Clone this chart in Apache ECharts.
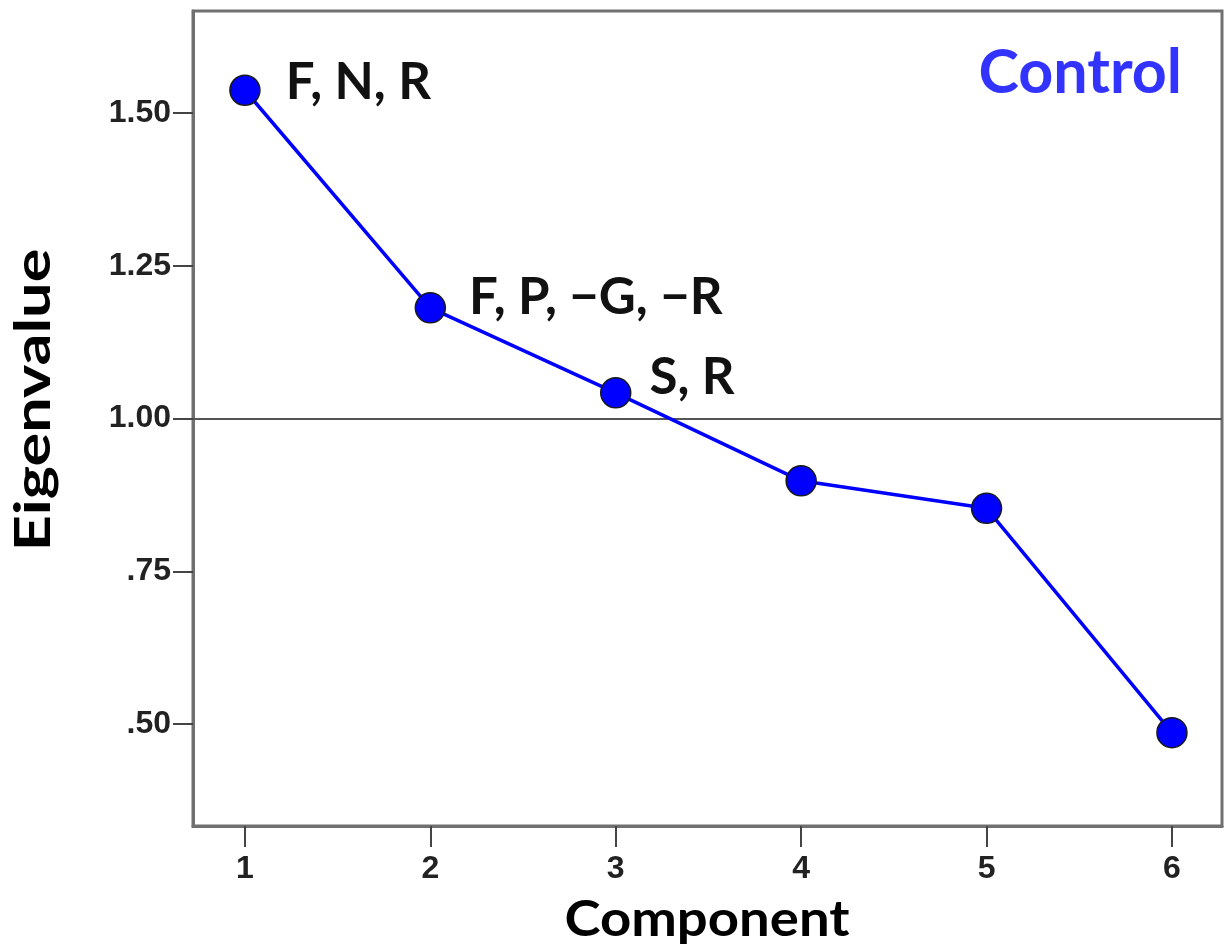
<!DOCTYPE html>
<html>
<head>
<meta charset="utf-8">
<script src="https://cdn.jsdelivr.net/npm/echarts@6/dist/echarts.min.js"></script>
<style>
  html, body { margin: 0; padding: 0; background: #fff; }
  #chart { width: 1228px; height: 952px; }
</style>
</head>
<body>
<div id="chart"></div>
<script>
// Scree plot: eigenvalue of each principal component
const components = [1, 2, 3, 4, 5, 6];
const eigenvalues = [1.537, 1.181, 1.042, 0.898, 0.853, 0.486];
// variables loading on each retained component
const loadings = ['F, N, R', 'F, P, \u2212G, \u2212R', 'S, R', '', '', ''];
const yTicks = [0.5, 0.75, 1.0, 1.25, 1.5];
const yTickLabels = ['.50', '.75', '1.00', '1.25', '1.50'];
const kaiserCutoff = 1.0;
const groupName = 'Control';

// per-label nudges (distance from marker, vertical shift)
const labelPlacement = [
  { distance: 25, dy: -8 },
  { distance: 23, dy: -10 },
  { distance: 18, dy: -15 }
];

const chart = echarts.init(document.getElementById('chart'), null, { renderer: 'canvas' });

const tickFont = { fontFamily: 'Liberation Sans', fontWeight: 'bold', fontSize: 32, color: '#222' };
const textFont = 'Lato';

const seriesData = components.map((c, i) => {
  const item = { value: [c, eigenvalues[i]] };
  if (loadings[i]) {
    const p = labelPlacement[i];
    item.label = {
      show: true,
      position: 'right',
      distance: p.distance,
      offset: [0, p.dy],
      formatter: loadings[i],
      fontFamily: textFont,
      fontWeight: 'bold',
      fontSize: 51,
      color: '#111'
    };
  }
  return item;
});

chart.setOption({
  animation: false,
  backgroundColor: '#fff',
  grid: {
    left: 193, right: 6, top: 11, bottom: 126,
    show: true,
    borderColor: '#707070',
    borderWidth: 3,
    backgroundColor: 'transparent'
  },
  xAxis: {
    type: 'value',
    min: 0.72,
    max: 6.27,
    splitLine: { show: false },
    axisLine: { show: true, onZero: false, lineStyle: { color: '#707070', width: 3 } },
    axisTick: { show: true, length: 21, customValues: components, lineStyle: { color: '#444', width: 2 } },
    axisLabel: Object.assign({ margin: 27, customValues: components, formatter: v => String(v) }, tickFont)
  },
  yAxis: {
    type: 'value',
    min: 1 / 3,
    max: 5 / 3,
    splitLine: { show: false },
    axisLine: { show: true, onZero: false, lineStyle: { color: '#707070', width: 3 } },
    axisTick: { show: true, length: 20, customValues: yTicks, lineStyle: { color: '#444', width: 2 } },
    axisLabel: Object.assign({
      margin: 22,
      customValues: yTicks,
      formatter: v => {
        const k = yTicks.findIndex(t => Math.abs(t - v) < 1e-6);
        return k >= 0 ? yTickLabels[k] : '';
      }
    }, tickFont)
  },
  series: [{
    type: 'line',
    data: seriesData,
    symbol: 'circle',
    symbolSize: 30,
    lineStyle: { color: '#0000ff', width: 3.5 },
    itemStyle: { color: '#0000ff', borderColor: '#1a1a1a', borderWidth: 1.5 },
    z: 3,
    markLine: {
      silent: true,
      symbol: 'none',
      label: { show: false },
      lineStyle: { color: '#555', width: 2, type: 'solid' },
      data: [{ yAxis: kaiserCutoff }],
      z: 1
    }
  }],
  graphic: [
    {
      type: 'text',
      x: 707, y: 920,
      scaleX: 1.09,
      style: {
        text: 'Component',
        font: 'bold 50px Lato',
        fill: '#000',
        align: 'center',
        verticalAlign: 'middle'
      }
    },
    {
      type: 'text',
      x: 34, y: 400,
      rotation: Math.PI / 2,
      scaleX: 1.26,
      style: {
        text: 'Eigenvalue',
        font: 'bold 50px Lato',
        fill: '#000',
        align: 'center',
        verticalAlign: 'middle'
      }
    },
    {
      type: 'text',
      x: 1182, y: 73,
      style: {
        text: groupName,
        font: 'bold 61px Lato',
        fill: '#3333ff',
        align: 'right',
        verticalAlign: 'middle'
      }
    }
  ]
});
</script>
</body>
</html>
